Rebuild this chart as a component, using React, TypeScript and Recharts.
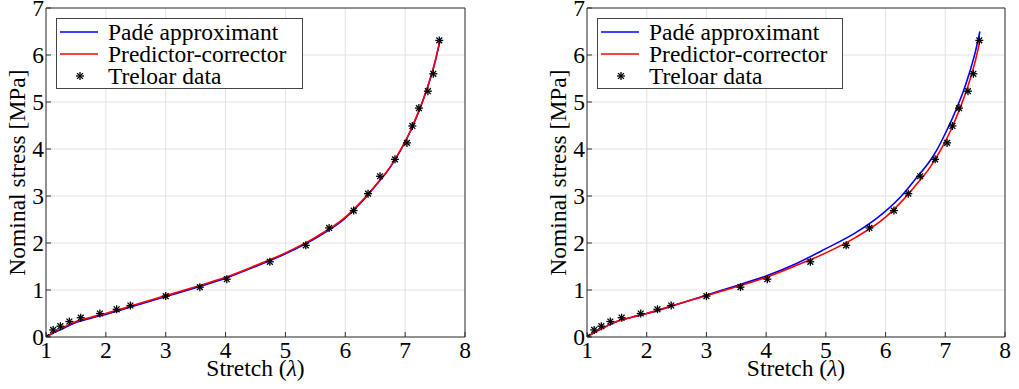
import React from 'react';
import { ComposedChart, Line, Scatter, XAxis, YAxis, CartesianGrid, Label } from 'recharts';

// tick labels
const stretchTicks = [1, 2, 3, 4, 5, 6, 7, 8];
const stressTicks = [0, 1, 2, 3, 4, 5, 6, 7];

const treloarStretch = [1.0, 1.12, 1.24, 1.39, 1.58, 1.9, 2.18, 2.41, 3.0, 3.57, 4.02, 4.74, 5.34, 5.73, 6.14, 6.38, 6.58, 6.83, 7.03, 7.12, 7.23, 7.38, 7.47, 7.57];
const treloarStress = [0.0, 0.15, 0.23, 0.33, 0.41, 0.5, 0.59, 0.67, 0.87, 1.06, 1.23, 1.6, 1.95, 2.32, 2.69, 3.05, 3.42, 3.78, 4.13, 4.49, 4.87, 5.23, 5.6, 6.31];

// model curves
const curveStretch = [1, 1.1, 1.25, 1.5, 1.75, 2, 2.5, 3, 3.5, 4, 4.5, 5, 5.5, 6, 6.25, 6.5, 6.75, 6.85, 7, 7.1, 7.2, 7.3, 7.4, 7.5, 7.58];
const padeLeft = [0, 0.07, 0.16, 0.31, 0.4, 0.48, 0.67, 0.86, 1.05, 1.25, 1.5, 1.77, 2.1, 2.53, 2.84, 3.21, 3.61, 3.81, 4.15, 4.41, 4.71, 5.04, 5.41, 5.85, 6.29];
const pcLeft = [0, 0.08, 0.18, 0.33, 0.42, 0.5, 0.69, 0.88, 1.07, 1.27, 1.52, 1.79, 2.12, 2.55, 2.86, 3.22, 3.62, 3.82, 4.16, 4.42, 4.72, 5.05, 5.42, 5.86, 6.3];
const padeRight = [0, 0.08, 0.18, 0.33, 0.42, 0.5, 0.69, 0.89, 1.09, 1.3, 1.56, 1.88, 2.22, 2.68, 2.98, 3.36, 3.76, 3.96, 4.33, 4.6, 4.9, 5.22, 5.6, 6.05, 6.5];
const pcRight = [0, 0.08, 0.18, 0.33, 0.42, 0.5, 0.69, 0.88, 1.07, 1.27, 1.52, 1.79, 2.12, 2.55, 2.86, 3.22, 3.62, 3.82, 4.16, 4.42, 4.72, 5.05, 5.42, 5.86, 6.3];

const FONT = '"Liberation Serif"';
const FS = 23.5;
const FRAME = '#333';

const toPoints = (xs: number[], ys: number[]) => xs.map((x, i) => ({ x, y: ys[i] }));
const treloarData = toPoints(treloarStretch, treloarStress);

const Star = ({ cx, cy }: any) => {
  const r = 4;
  const d = 2.9;
  return (
    <g stroke="#000" strokeWidth={1.3}>
      <line x1={cx - r} y1={cy} x2={cx + r} y2={cy} />
      <line x1={cx} y1={cy - r} x2={cx} y2={cy + r} />
      <line x1={cx - d} y1={cy - d} x2={cx + d} y2={cy + d} />
      <line x1={cx - d} y1={cy + d} x2={cx + d} y2={cy - d} />
    </g>
  );
};

const BottomTick = ({ x, y, payload }: any) => (
  <g>
    <line x1={x} y1={y} x2={x} y2={y - 5} stroke={FRAME} />
    <text x={x} y={y + 21} textAnchor="middle" fontFamily={FONT} fontSize={FS} fill="#000">{payload.value}</text>
  </g>
);
const LeftTick = ({ x, y, payload }: any) => (
  <g>
    <line x1={x} y1={y} x2={x + 5} y2={y} stroke={FRAME} />
    <text x={x - 2} y={y + 8} textAnchor="end" fontFamily={FONT} fontSize={FS} fill="#000">{payload.value}</text>
  </g>
);
const TopTick = ({ x, y }: any) => <line x1={x} y1={y} x2={x} y2={y + 5} stroke={FRAME} />;
const RightTick = ({ x, y }: any) => <line x1={x} y1={y} x2={x - 5} y2={y} stroke={FRAME} />;

const YTitle = ({ viewBox }: any) => {
  const cx = viewBox.x + viewBox.width - 29;
  const cy = viewBox.y + viewBox.height / 2;
  return (
    <text x={cx} y={cy} transform={`rotate(-90 ${cx} ${cy})`} textAnchor="middle" dominantBaseline="central" fontFamily={FONT} fontSize={FS} fill="#000">
      Nominal stress [MPa]
    </text>
  );
};
const XTitle = ({ viewBox }: any) => {
  const cx = viewBox.x + viewBox.width / 2;
  return (
    <text x={cx} y={viewBox.y + 39} textAnchor="middle" fontFamily={FONT} fontSize={FS} fill="#000">
      Stretch (<tspan fontStyle="italic">λ</tspan>)
    </text>
  );
};

const legendItems = [
  { name: 'Padé approximant', kind: 'line', color: '#0000ff' },
  { name: 'Predictor-corrector', kind: 'line', color: '#ff0000' },
  { name: 'Treloar data', kind: 'star', color: '#000' },
];

const LegendBox = ({ left, width }: { left: number; width: number }) => (
  <div style={{ position: 'absolute', left, top: 18, width, height: 71, boxSizing: 'border-box', background: '#fff', border: '1px solid #444', fontFamily: FONT, fontSize: FS, color: '#000', paddingTop: 2 }}>
    {legendItems.map((it) => (
      <div key={it.name} style={{ display: 'flex', alignItems: 'center', height: 22, lineHeight: '22px' }}>
        <svg width={51} height={22} style={{ flex: 'none' }}>
          {it.kind === 'line' ? (
            <line x1={3} y1={11} x2={41} y2={11} stroke={it.color} strokeWidth={1.6} />
          ) : (
            <Star cx={23} cy={11} />
          )}
        </svg>
        <span style={{ whiteSpace: 'nowrap' }}>{it.name}</span>
      </div>
    ))}
  </div>
);

const Panel = ({ left, width, marginLeft, marginRight, pade, pc }: any) => {
  const padeData = toPoints(curveStretch, pade);
  const pcData = toPoints(curveStretch, pc);
  return (
    <div style={{ position: 'absolute', left, top: 0 }}>
      <ComposedChart width={width} height={389} margin={{ top: 7, right: marginRight - 1, bottom: 51, left: marginLeft - 1 }}>
        <CartesianGrid stroke="#e2e2e2" strokeWidth={1} />
        <XAxis dataKey="x" type="number" domain={[1, 8]} ticks={stretchTicks} interval={0} height={1} tickSize={0} tickMargin={0} axisLine={{ stroke: FRAME }} tickLine={false} tick={<BottomTick />} allowDataOverflow>
          <Label content={<XTitle />} />
        </XAxis>
        <XAxis xAxisId="top" orientation="top" dataKey="x" type="number" domain={[1, 8]} ticks={stretchTicks} interval={0} height={1} tickSize={0} tickMargin={0} axisLine={{ stroke: FRAME }} tickLine={false} tick={<TopTick />} />
        <YAxis type="number" domain={[0, 7]} ticks={stressTicks} interval={0} width={1} tickSize={0} tickMargin={0} axisLine={{ stroke: FRAME }} tickLine={false} tick={<LeftTick />} allowDataOverflow>
          <Label content={<YTitle />} />
        </YAxis>
        <YAxis yAxisId="right" orientation="right" type="number" domain={[0, 7]} ticks={stressTicks} interval={0} width={1} tickSize={0} tickMargin={0} axisLine={{ stroke: FRAME }} tickLine={false} tick={<RightTick />} />
        <Line data={padeData} dataKey="y" type="monotone" stroke="#0000ff" strokeWidth={1.6} dot={false} isAnimationActive={false} />
        <Line data={pcData} dataKey="y" type="monotone" stroke="#ff0000" strokeWidth={1.6} dot={false} isAnimationActive={false} />
        <Scatter data={treloarData} dataKey="y" shape={<Star />} isAnimationActive={false} />
      </ComposedChart>
    </div>
  );
};

export default function App() {
  return (
    <div style={{ position: 'absolute', left: 0, top: 0, width: 1019, height: 389, background: '#fff' }}>
      <Panel left={0} width={480} marginLeft={46} marginRight={15} pade={padeLeft} pc={pcLeft} />
      <Panel left={540} width={479} marginLeft={47} marginRight={14} pade={padeRight} pc={pcRight} />
      <LegendBox left={56} width={247} />
      <LegendBox left={597} width={246} />
    </div>
  );
}
